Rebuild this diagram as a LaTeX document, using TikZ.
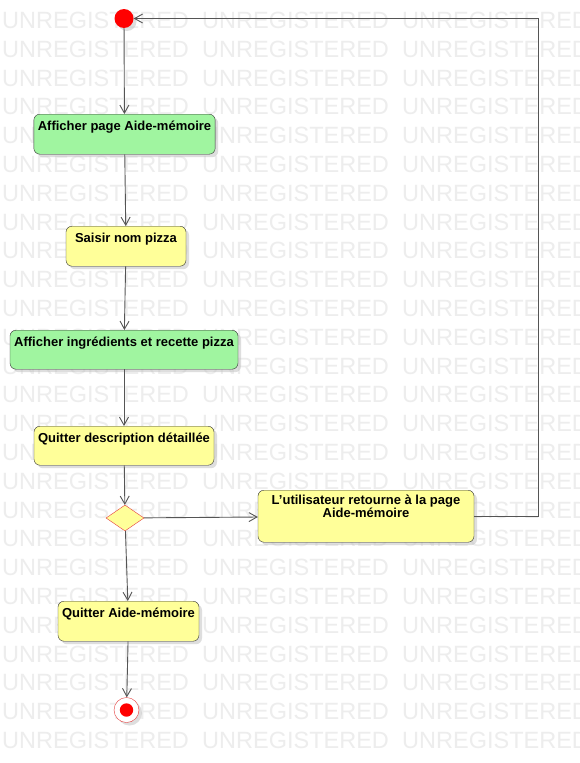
\documentclass[tikz,border=0pt]{standalone}
\usepackage{fontspec}
\setmainfont{Liberation Sans}
\usetikzlibrary{arrows.meta}
\usetikzlibrary{shapes.geometric}
\usetikzlibrary{shadows}
\definecolor{actgreen}{RGB}{160,245,160}
\definecolor{actyellow}{RGB}{255,255,153}
\definecolor{wmgray}{RGB}{237,237,237}
\definecolor{flowgray}{RGB}{85,85,85}
\definecolor{stategray}{RGB}{230,60,60}

\begin{document}
\begin{tikzpicture}[x=1pt,y=-1pt,
  activity/.style={draw=black!80, rounded corners=6pt, inner xsep=4pt, inner ysep=6pt,
    text height=10pt, text depth=18pt, font=\bfseries\fontsize{13}{15}\selectfont,
    drop shadow={shadow xshift=3pt,shadow yshift=-3pt,fill=black!25,opacity=.5}},
  green act/.style={activity, fill=actgreen},
  yellow act/.style={activity, fill=actyellow},
  flow/.style={draw=flowgray, line width=.9pt, -{Straight Barb[length=8pt,width=9pt]}},
  watermark/.style={anchor=west, text=wmgray, inner sep=0pt, font=\fontsize{23.5}{24}\selectfont}]

\fill[white] (0,0) rectangle (579,763);
\useasboundingbox (0,0) rectangle (579,763);

\foreach \row in {0,...,25}
  \foreach \col in {0,1,2}
    \node[watermark] (wm-\row-\col) at (2+200*\col, 20.5+28.8*\row) {UNREGISTERED};

\node[circle, fill=red, minimum size=19pt, inner sep=0pt,
  drop shadow={shadow xshift=3pt,shadow yshift=-3pt,fill=black!25,opacity=.5}] (Start) at (124,18.5) {};

\node[green act, minimum width=181pt, anchor=north] (AfficherPage) at (124.5,114) {Afficher page Aide-mémoire};
\node[yellow act, minimum width=120pt, anchor=north] (SaisirNom) at (126,226) {Saisir nom pizza};
\node[green act, minimum width=228pt, anchor=north, text depth=17pt] (AfficherRecette) at (124,330) {Afficher ingrédients et recette pizza};
\node[yellow act, minimum width=180pt, anchor=north, text depth=17pt] (QuitterDesc) at (124,426) {Quitter description détaillée};

\node[diamond, draw=stategray, fill=actyellow, minimum width=38pt, minimum height=26pt, inner sep=0pt] (Choix) at (125,518) {};

\node[yellow act, minimum width=216pt, anchor=north, align=center, text height=21.5pt, text depth=18.5pt,
  font=\bfseries\fontsize{13}{11.5}\selectfont] (Retour) at (366,490) {L'utilisateur retourne à la page\\Aide-mémoire};
\node[yellow act, minimum width=141pt, anchor=north] (QuitterAide) at (128.5,601) {Quitter Aide-mémoire};

\node[circle, draw=stategray, fill=white, minimum size=25pt, inner sep=0pt,
  path picture={\fill[red] (path picture bounding box.center) circle (6.7pt);},
  drop shadow={shadow xshift=3pt,shadow yshift=-3pt,fill=black!25,opacity=.5}] (End) at (126.5,710) {};

\draw[flow] (Start) -- (AfficherPage);
\draw[flow] (AfficherPage) -- (SaisirNom);
\draw[flow] (SaisirNom) -- (AfficherRecette);
\draw[flow] (AfficherRecette) -- (QuitterDesc);
\draw[flow] (QuitterDesc) -- (Choix);
\draw[flow] (Choix) -- (Retour);
\draw[flow] (Choix) -- (QuitterAide);
\draw[flow] (QuitterAide) -- (End);

\coordinate (Coin) at (538,18.5);
\draw[flow] (Retour.east) -| (Coin) -- (Start);

\end{tikzpicture}
\end{document}
